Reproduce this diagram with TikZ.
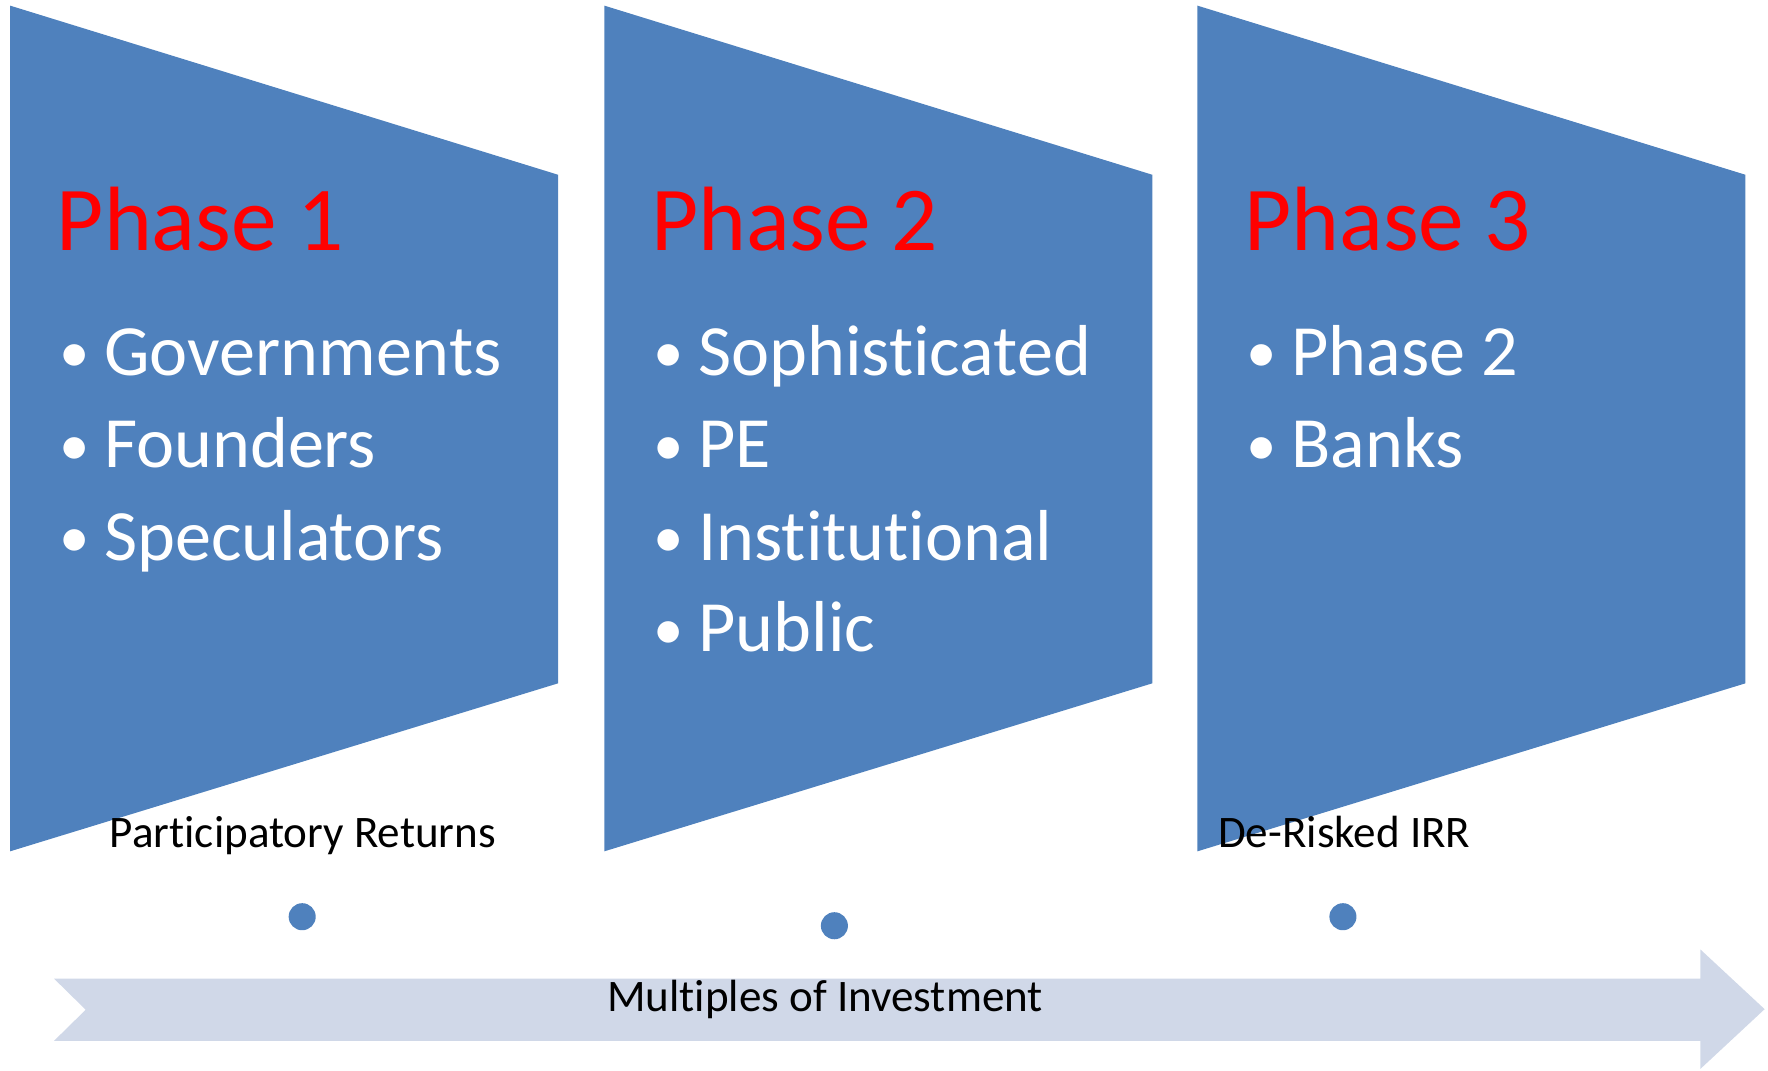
\documentclass[tikz,border=0pt]{standalone}
\usepackage{fontspec}
\setmainfont{Carlito}[Ligatures={NoCommon},RawFeature={-liga;-clig;-dlig}]
\definecolor{shapeblue}{HTML}{4F81BD}
\definecolor{arrowgrey}{HTML}{D0D8E8}
\begin{document}
\begin{tikzpicture}[x=0.5pt,y=-0.5pt,
  phase/.style={fill=shapeblue},
  title/.style={anchor=base west,inner sep=0pt,text=red,font=\fontsize{40.5}{48}\selectfont},
  item/.style={anchor=base west,inner sep=0pt,text=white,font=\fontsize{32}{38}\selectfont},
  small/.style={anchor=base west,inner sep=0pt,text=black,font=\fontsize{20}{24}\selectfont},
  dot/.style={circle,fill=shapeblue,inner sep=0pt,minimum size=12pt}]
\useasboundingbox (0,0) rectangle (1568,949);
% phase shapes
\foreach \dx in {0,527,1053}{
  \fill[phase] (9+\dx,5) -- (495+\dx,155) -- (495+\dx,606) -- (9+\dx,755) -- cycle;
}
% arrow
\fill[arrowgrey] (48,868) -- (1508,868) -- (1508,842) -- (1565,895) -- (1508,948) -- (1508,923) -- (48,923) -- (76,895.5) -- cycle;
% titles
\node[title] (t1) at (50,222) {Phase 1};
\node[title] (t2) at (577,222) {Phase 2};
\node[title] (t3) at (1103,222) {Phase 3};
\newcommand{\bul}{\makebox[20pt][l]{\raisebox{1.2pt}{\fontsize{27}{30}\selectfont •}}}
% phase 1 items
\node[item] (a1) at (52,333) {\bul Governments};
\node[item] (a2) at (52,415) {\bul Founders};
\node[item] (a3) at (52,497) {\bul Speculators};
% phase 2 items
\node[item] (b1) at (579,333) {\bul Sophisticated};
\node[item] (b2) at (579,415) {\bul PE};
\node[item] (b3) at (579,497) {\bul Institutional};
\node[item] (b4) at (579,578) {\bul Public};
% phase 3 items
\node[item] (c1) at (1105,333) {\bul Phase 2};
\node[item] (c2) at (1105,415) {\bul Banks};
% labels
\node[small] (l1) at (97,752) {Participatory Returns};
\node[small] (l3) at (1080,752) {De-Risked IRR};
\node[small] (l2) at (538,897) {Multiples of Investment};
% dots
\node[dot] (d1) at (268,813) {};
\node[dot] (d2) at (740,821) {};
\node[dot] (d3) at (1191,813) {};
\end{tikzpicture}
\end{document}
